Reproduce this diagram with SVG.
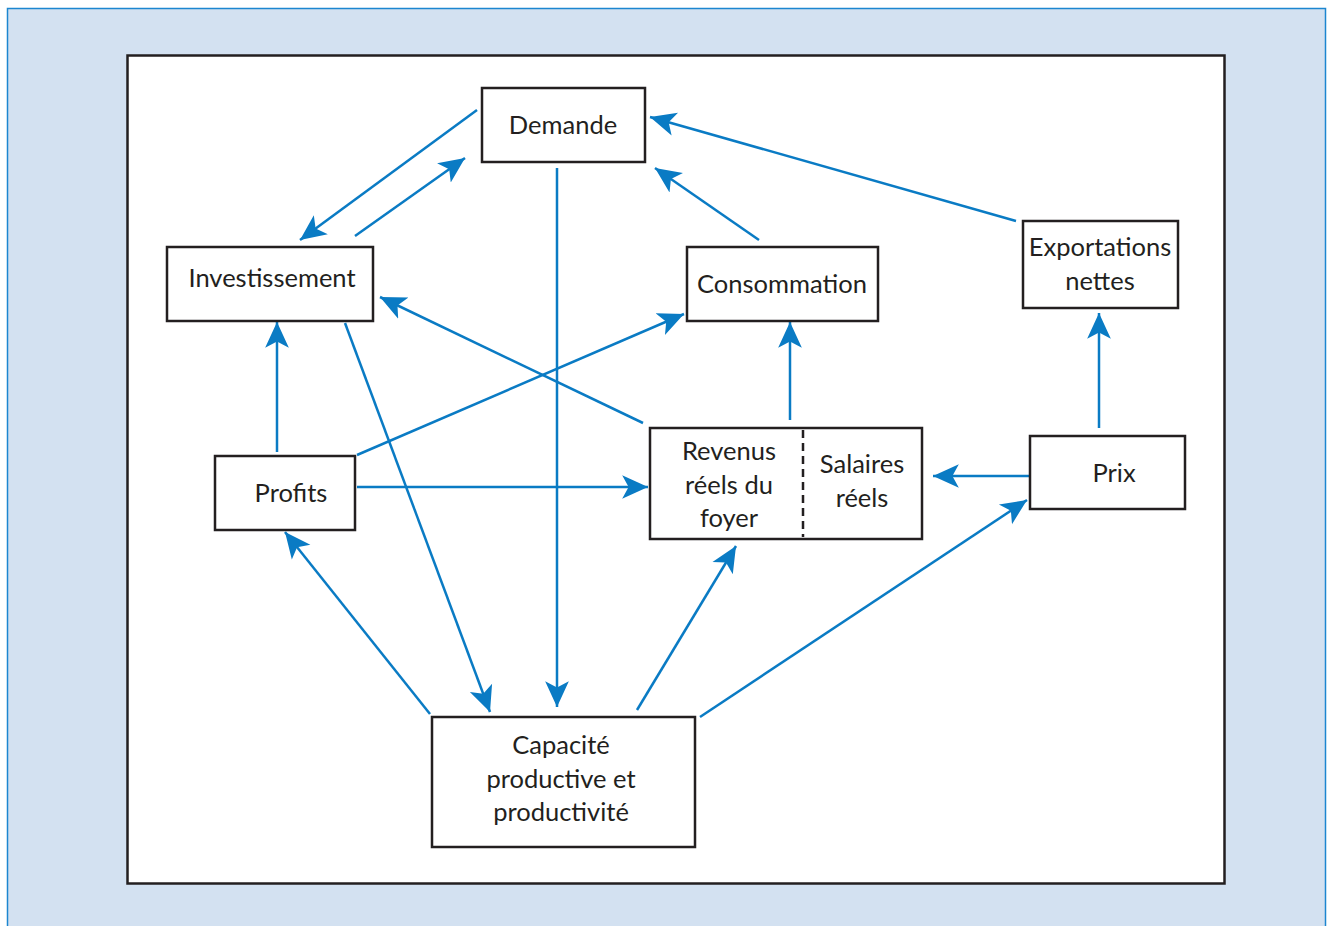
<svg xmlns="http://www.w3.org/2000/svg" width="1332" height="926" viewBox="0 0 1332 926">
<defs>
<style>
.box{fill:#fff;stroke:#231f20;stroke-width:2.5}
.t{font-family:Lato,"Open Sans",sans-serif;font-size:25.5px;fill:#231f20;text-anchor:middle}
.c line{stroke:#0a7bc4;stroke-width:2.5;marker-end:url(#ah)}
</style>
<marker id="ah" markerUnits="userSpaceOnUse" markerWidth="28" markerHeight="28" viewBox="0 0 26 26" refX="24" refY="13" orient="auto">
<path d="M0,2 L24,13 L0,24 L6,13 z" fill="#0a7bc4"/>
</marker>
</defs>
<rect x="0" y="0" width="1332" height="926" fill="#fff"/>
<rect x="7.5" y="8.5" width="1318" height="930" fill="#d3e1f1" stroke="#1c86d0" stroke-width="1.5"/>
<rect x="127.5" y="55.5" width="1097" height="828" fill="#fff" stroke="#231f20" stroke-width="2.5"/>
<g class="c" id="connectors">
<line x1="477" y1="110" x2="300" y2="240"/>
<line x1="355" y1="236" x2="465" y2="158"/>
<line x1="557" y1="168" x2="557" y2="707"/>
<line x1="759" y1="240" x2="655" y2="168"/>
<line x1="1016" y1="221" x2="650" y2="117"/>
<line x1="643" y1="423" x2="380" y2="297"/>
<line x1="790" y1="420" x2="790" y2="322"/>
<line x1="277" y1="452" x2="277" y2="322"/>
<line x1="357" y1="455" x2="684" y2="314"/>
<line x1="357" y1="487" x2="648" y2="487"/>
<line x1="345" y1="323" x2="490" y2="712"/>
<line x1="430" y1="714" x2="285" y2="532"/>
<line x1="637" y1="710" x2="736" y2="546"/>
<line x1="700" y1="717" x2="1027" y2="500"/>
<line x1="1030" y1="476" x2="933" y2="476"/>
<line x1="1099" y1="428" x2="1099" y2="313"/>
</g>
<g id="demande"><rect class="box" x="482" y="88" width="163" height="74"/><text class="t" x="563" y="134">Demande</text></g>
<g id="investissement"><rect class="box" x="167" y="247" width="206" height="74"/><text class="t" x="272" y="287">Investissement</text></g>
<g id="consommation"><rect class="box" x="687" y="247" width="191" height="74"/><text class="t" x="782" y="293">Consommation</text></g>
<g id="exportations"><rect class="box" x="1023" y="221" width="155" height="87"/><text class="t" x="1100" y="256">Exportations</text><text class="t" x="1100" y="290">nettes</text></g>
<g id="profits"><rect class="box" x="215" y="456" width="140" height="74"/><text class="t" x="291" y="502">Profits</text></g>
<g id="revenus"><rect class="box" x="650" y="428" width="272" height="111"/><line x1="803" y1="430" x2="803" y2="537" stroke="#231f20" stroke-width="2.5" stroke-dasharray="8,5"/><text class="t" x="729" y="460">Revenus</text><text class="t" x="729" y="494">réels du</text><text class="t" x="729" y="527">foyer</text><text class="t" x="862" y="473">Salaires</text><text class="t" x="862" y="507">réels</text></g>
<g id="prix"><rect class="box" x="1030" y="436" width="155" height="73"/><text class="t" x="1114" y="482">Prix</text></g>
<g id="capacite"><rect class="box" x="432" y="717" width="263" height="130"/><text class="t" x="561" y="754">Capacité</text><text class="t" x="561" y="788">productive et</text><text class="t" x="561" y="821">productivité</text></g>
</svg>
